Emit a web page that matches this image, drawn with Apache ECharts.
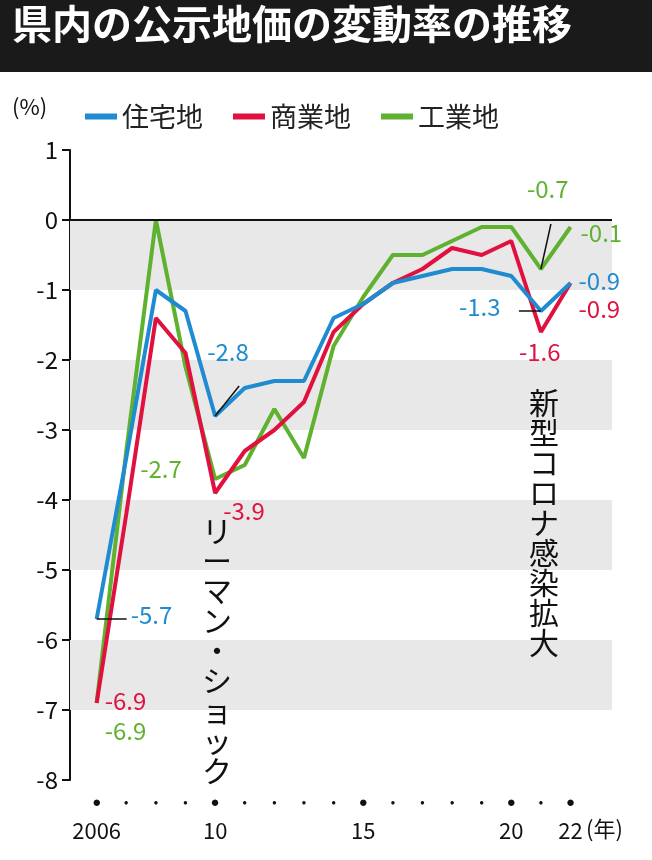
<!DOCTYPE html><html><head><meta charset="utf-8">
<script src="https://cdn.jsdelivr.net/npm/echarts@6/dist/echarts.min.js"></script>
<style>body{margin:0;background:#fff}#c{width:652px;height:860px}</style></head><body><div id="c"></div><script>
const years=[2006,2007,2008,2009,2010,2011,2012,2013,2014,2015,2016,2017,2018,2019,2020,2021,2022];
const residential=[-5.7,-3.4,-1.0,-1.3,-2.8,-2.4,-2.3,-2.3,-1.4,-1.2,-0.9,-0.8,-0.7,-0.7,-0.8,-1.3,-0.9];
const commercial=[-6.9,-4.2,-1.4,-1.9,-3.9,-3.3,-3.0,-2.6,-1.6,-1.2,-0.9,-0.7,-0.4,-0.5,-0.3,-1.6,-0.9];
const industrial=[-6.9,-3.3,0.0,-2.1,-3.7,-3.5,-2.7,-3.4,-1.8,-1.1,-0.5,-0.5,-0.3,-0.1,-0.1,-0.7,-0.1];
const yearLabels={2006:'2006',2010:'10',2015:'15',2020:'20',2022:'22'};
const C={r:'#1f8bd0',c:'#e0103f',i:'#5fb130'};
const F='"Noto Sans CJK JP","Noto Sans",sans-serif';
const ch=echarts.init(document.getElementById('c'));
const z=a=>years.map((y,i)=>[y,a[i]]);
ch.setOption({animation:false,
grid:{left:70,right:40,top:150,bottom:80},
legend:{top:98,left:80,itemGap:30,icon:'rect',itemWidth:32,itemHeight:6,textStyle:{fontSize:27,fontFamily:F,color:'#222'},
 data:['住宅地','商業地','工業地']},
xAxis:{type:'value',min:2005.1,max:2023.4,interval:0.1,splitLine:{show:false},axisLine:{show:false},axisTick:{show:false},
 axisLabel:{hideOverlap:false,showMinLabel:true,showMaxLabel:false,margin:10,formatter:v=>{
   const r=Math.round(v); if(Math.abs(v-r)>1e-4||r<2006||r>2022) return '';
   const l=yearLabels[r];return l?'{b|●}\n{y|'+l+'}':'{s|●}\n{y| }';},
 rich:{b:{fontSize:15,color:'#111',lineHeight:26},s:{fontSize:8,color:'#111',lineHeight:26},y:{fontSize:22,fontFamily:F,color:'#111',lineHeight:30}}}},
yAxis:{type:'value',min:-8,max:1,interval:1,splitLine:{show:false},axisLine:{show:true,lineStyle:{color:'#111',width:2}},
 axisTick:{show:true,length:8,lineStyle:{color:'#111',width:2}},axisLabel:{fontSize:24,fontFamily:F,color:'#111',margin:12}},
series:[
{name:'住宅地',type:'line',data:z(residential),symbol:'none',lineStyle:{width:4,color:C.r},itemStyle:{color:C.r},z:4,
 markArea:{silent:true,itemStyle:{color:'#e8e8e8'},data:[[{yAxis:0},{yAxis:-1}],[{yAxis:-2},{yAxis:-3}],[{yAxis:-4},{yAxis:-5}],[{yAxis:-6},{yAxis:-7}]]},
 markLine:{silent:true,symbol:'none',label:{show:false},lineStyle:{color:'#111',width:2,type:'solid'},data:[{yAxis:0}]}},
{name:'商業地',type:'line',data:z(commercial),symbol:'none',lineStyle:{width:4,color:C.c},itemStyle:{color:C.c},z:3},
{name:'工業地',type:'line',data:z(industrial),symbol:'none',lineStyle:{width:4,color:C.i},itemStyle:{color:C.i},z:2}
]});
const P=(x,y)=>ch.convertToPixel({gridIndex:0},[x,y]);
const g=[];
const t=(x,y,s,col,size,bold)=>g.push({type:'text',z:100,x,y,style:{text:s,fill:col,fontSize:size||24,fontWeight:bold?'bold':'normal',fontFamily:F}});
const ln=(a,b)=>g.push({type:'polyline',z:100,shape:{points:[a,b]},style:{stroke:'#111',lineWidth:1.5}});
g.push({type:'rect',z:90,shape:{x:0,y:0,width:652,height:72},style:{fill:'#1a1a1a'}});
t(12,4,'県内の公示地価の変動率の推移','#fff',40,true);
t(12,96,'(%)','#111',22);
let p=P(2006,-5.7);ln(p,[p[0]+30,p[1]]);t(p[0]+34,p[1]-16,'-5.7',C.r);
p=P(2006,-6.9);t(p[0]+8,p[1]-14,'-6.9',C.c);t(p[0]+8,p[1]+16,'-6.9',C.i);
p=P(2010,-2.8);ln(p,[p[0]+24,p[1]-30]);t(p[0]-8,p[1]-76,'-2.8',C.r);
p=P(2010,-3.9);t(p[0]+8,p[1]+6,'-3.9',C.c);
p=P(2010,-3.7);t(p[0]-75,p[1]-22,'-2.7',C.i);
p=P(2021,-1.3);ln(p,[p[0]-22,p[1]]);t(p[0]-82,p[1]-16,'-1.3',C.r);
p=P(2021,-1.6);t(p[0]-22,p[1]+8,'-1.6',C.c);
p=P(2021,-0.7);ln(p,[p[0]+10,p[1]-45]);t(p[0]-14,p[1]-92,'-0.7',C.i);
p=P(2022,-0.9);t(p[0]+8,p[1]-14,'-0.9',C.r);t(p[0]+8,p[1]+14,'-0.9',C.c);
p=P(2022,-0.1);t(p[0]+10,p[1]-6,'-0.1',C.i);
t(586,818,'(年)','#111',22);
const vt=(x,y,s)=>g.push({type:'text',z:100,x,y,style:{text:s.split('').join('\n'),fill:'#111',fontSize:30,fontFamily:F,lineHeight:30,align:'center'}});
vt(217,516,'リーマン・ショック');
vt(544,388,'新型コロナ感染拡大');
ch.setOption({graphic:g});
</script></body></html>
